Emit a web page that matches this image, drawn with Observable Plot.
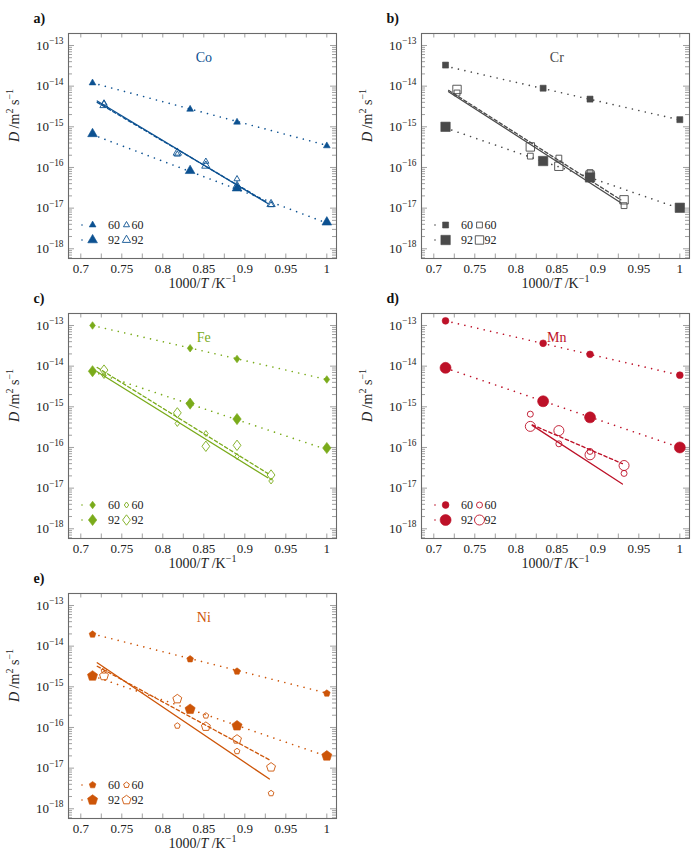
<!DOCTYPE html>
<html><head><meta charset="utf-8">
<script src="https://cdn.jsdelivr.net/npm/d3@7"></script>
<script src="https://cdn.jsdelivr.net/npm/@observablehq/plot@0.6"></script>
<style>
html,body{margin:0;padding:0;background:#fff;}
#wrap{position:relative;width:691px;height:861px;overflow:hidden;background:#fff;}
#wrap svg{position:absolute;overflow:visible;background:transparent;font-family:"Liberation Serif","DejaVu Serif",serif !important;}
#wrap svg text{font-family:"Liberation Serif","DejaVu Serif",serif !important;}
</style></head><body><div id="wrap"></div>
<script>
// ---- shared x positions (1000/T) ----
const xFilled = [0.7143, 0.8333, 0.8905, 1.0];
const xOpen = [0.7283, 0.8177, 0.8525, 0.8905, 0.9320];
const xFitFilled = [0.7143, 1.0];
const xTicks = [0.7, 0.75, 0.8, 0.85, 0.9, 0.95, 1];
const yTicks = [1e-18, 1e-17, 1e-16, 1e-15, 1e-14, 1e-13];
const seriesLabels = ["60", "92"];
const nameLabelX = 0.85;

// ---- Co ----
const coFilled60 = [1.2e-14, 2.7e-15, 1.3e-15, 3.4e-16];
const coFilled92 = [6.7e-16, 8.3e-17, 3.1e-17, 4.5e-18];
const coOpen60 = [3.8e-15, 2.1e-16, 1.4e-16, 5.2e-17, 1.2e-17];
const coOpen92 = [3.4e-15, 2.3e-16, 1.1e-16, 3.5e-17, 1.25e-17];
const coFitFilled60 = [1.2e-14, 3.5e-16];
const coFitFilled92 = [6.4e-16, 4.3e-18];
const coFitOpenX = [0.720, 0.928];
const coFitOpen60 = [4.3e-15, 1.3e-17];
const coFitOpen92 = [4.0e-15, 1.35e-17];

// ---- Cr ----
const crFilled60 = [3.3e-14, 8.9e-15, 4.8e-15, 1.5e-15];
const crFilled92 = [1.0e-15, 1.44e-16, 5.7e-17, 1.02e-17];
const crOpen60 = [6.8e-15, 1.9e-16, 1.7e-16, 7.5e-17, 1.15e-17];
const crOpen92 = [8.3e-15, 3.2e-16, 1.07e-16, 6.5e-17, 1.6e-17];
const crFitFilled60 = [3.1e-14, 1.48e-15];
const crFitFilled92 = [9.4e-16, 9.8e-18];
const crFitOpenX = [0.718, 0.928];
const crFitOpen60 = [7.3e-15, 1.35e-17];
const crFitOpen92 = [7.9e-15, 1.6e-17];

// ---- Fe ----
const feFilled60 = [1.0e-13, 2.76e-14, 1.5e-14, 4.7e-15];
const feFilled92 = [7.5e-15, 1.2e-15, 5.0e-16, 9.7e-17];
const feOpen60 = [5.9e-15, 3.9e-16, 2.2e-16, 6.0e-17, 1.5e-17];
const feOpen92 = [8.0e-15, 7.1e-16, 1.07e-16, 1.13e-16, 2.1e-17];
const feFitFilled60 = [1.0e-13, 4.7e-15];
const feFitFilled92 = [7.3e-15, 8.9e-17];
const feFitOpenX = [0.720, 0.928];
const feFitOpen60 = [7.3e-15, 1.8e-17];
const feFitOpen92 = [9.3e-15, 2.3e-17];

// ---- Mn ----
const mnFilled60 = [1.3e-13, 3.65e-14, 1.95e-14, 6.0e-15];
const mnFilled92 = [9.1e-15, 1.37e-15, 5.5e-16, 1.0e-16];
const mnOpen60 = [null, 6.6e-16, 1.23e-16, 8.0e-17, 2.3e-17];
const mnOpen92 = [null, 3.3e-16, 2.6e-16, 6.6e-17, 3.6e-17];
const mnFitFilled60 = [1.3e-13, 6.0e-15];
const mnFitFilled92 = [9.0e-15, 1.0e-16];
const mnFitOpenX = [0.820, 0.930];
const mnFitOpen60 = [3.5e-16, 1.26e-17];
const mnFitOpen92 = [3.6e-16, 4.0e-17];

// ---- Ni ----
const niFilled60 = [1.95e-14, 4.8e-15, 2.4e-15, 6.9e-16];
const niFilled92 = [1.85e-15, 2.8e-16, 1.1e-16, 2.0e-17];
const niOpen60 = [2.5e-15, 1.1e-16, 1.95e-16, 2.6e-17, 2.4e-18];
const niOpen92 = [1.85e-15, 5.0e-16, 1.05e-16, 5.1e-17, 1.05e-17];
const niFitFilled60 = [2.0e-14, 7.0e-16];
const niFitFilled92 = [1.86e-15, 1.96e-17];
const niFitOpenX = [0.720, 0.930];
const niFitOpen60 = [3.9e-15, 5.4e-18];
const niFitOpen92 = [3.2e-15, 1.6e-17];

// ---- symbols (r = half size) ----
const R = s => Math.sqrt(s / Math.PI);
const symbols = {
  triangle: {draw(c, s) {const r = R(s), h = r * Math.sin(Math.PI / 3); c.moveTo(0, -r); c.lineTo(h, r / 2); c.lineTo(-h, r / 2); c.closePath();}},
  square: {draw(c, s) {const r = R(s); c.moveTo(-r, -r); c.lineTo(r, -r); c.lineTo(r, r); c.lineTo(-r, r); c.closePath();}},
  diamond: {draw(c, s) {const r = R(s); c.moveTo(0, -r); c.lineTo(0.75 * r, 0); c.lineTo(0, r); c.lineTo(-0.75 * r, 0); c.closePath();}},
  circle: {draw(c, s) {const r = R(s); c.moveTo(r, 0); c.arc(0, 0, r, 0, 2 * Math.PI);}},
  pentagon: {draw(c, s) {const r = R(s); for (let k = 0; k < 5; ++k) {const a = -Math.PI / 2 + k * 2 * Math.PI / 5; const px = r * Math.cos(a), py = r * Math.sin(a); if (k) c.lineTo(px, py); else c.moveTo(px, py);} c.closePath();}}
};
const sizes = {
  triangle: [3.9, 5.6, 3.5, 4.8],
  square: [3.0, 4.7, 2.9, 4.2],
  diamond: [3.8, 5.6, 3.0, 5.2],
  circle: [3.4, 5.5, 3.0, 5.0],
  pentagon: [3.5, 5.3, 3.0, 4.7]
};

const panels = [
  {letter: "a)", name: "Co", color: "#0c5191", symbol: "triangle", left: 0, top: 0, width: 345,
   f60: coFilled60, f92: coFilled92, o60: coOpen60, o92: coOpen92, ff60: coFitFilled60, ff92: coFitFilled92, fox: coFitOpenX, fo60: coFitOpen60, fo92: coFitOpen92},
  {letter: "b)", name: "Cr", color: "#4a4a4a", symbol: "square", left: 353, top: 0, width: 338,
   f60: crFilled60, f92: crFilled92, o60: crOpen60, o92: crOpen92, ff60: crFitFilled60, ff92: crFitFilled92, fox: crFitOpenX, fo60: crFitOpen60, fo92: crFitOpen92},
  {letter: "c)", name: "Fe", color: "#7aab1b", symbol: "diamond", left: 0, top: 280, width: 345,
   f60: feFilled60, f92: feFilled92, o60: feOpen60, o92: feOpen92, ff60: feFitFilled60, ff92: feFitFilled92, fox: feFitOpenX, fo60: feFitOpen60, fo92: feFitOpen92},
  {letter: "d)", name: "Mn", color: "#bd1128", symbol: "circle", left: 353, top: 280, width: 338,
   f60: mnFilled60, f92: mnFilled92, o60: mnOpen60, o92: mnOpen92, ff60: mnFitFilled60, ff92: mnFitFilled92, fox: mnFitOpenX, fo60: mnFitOpen60, fo92: mnFitOpen92},
  {letter: "e)", name: "Ni", color: "#cd5508", symbol: "pentagon", left: 0, top: 560, width: 345,
   f60: niFilled60, f92: niFilled92, o60: niOpen60, o92: niOpen92, ff60: niFitFilled60, ff92: niFitFilled92, fox: niFitOpenX, fo60: niFitOpen60, fo92: niFitOpen92}
];

const yDomain = [Math.pow(10, -18.239), Math.pow(10, -12.705)];
const xDomain = [0.685, 1.0118];
const yMinor = [];
for (let e = -19; e <= -13; ++e) for (let k = 2; k <= 9; ++k) {const v = k * Math.pow(10, e); if (v > yDomain[0] && v < yDomain[1]) yMinor.push(v);}
const xMinor = d3.range(0, 13).map(i => 0.7 + i * 0.025);

const rows = (xs, ys) => xs.map((x, i) => ({x, y: ys[i]})).filter(d => d.y != null);

function richify(svg) {
  d3.select(svg).selectAll("text").each(function() {
    const s = this.textContent;
    if (!s.includes("{")) return;
    const base = parseFloat(getComputedStyle(this).fontSize) || 13;
    const parts = []; let last = 0; const re = /\{([i^])\|([^}]*)\}/g; let m;
    while ((m = re.exec(s))) {if (m.index > last) parts.push(["", s.slice(last, m.index)]); parts.push([m[1], m[2]]); last = re.lastIndex;}
    if (last < s.length) parts.push(["", s.slice(last)]);
    const t = d3.select(this); t.text(null);
    let raised = false; const shift = base * 0.42;
    for (const [k, txt] of parts) {
      const sp = t.append("tspan").text(txt);
      if (k === "i") sp.attr("font-style", "italic");
      if (k === "^") {sp.attr("font-size", (base * 0.72) + "px"); if (!raised) {sp.attr("dy", -shift); raised = true;}}
      else if (raised) {sp.attr("dy", shift); raised = false;}
    }
  });
}

const wrap = document.getElementById("wrap");
const tickGray = "#a0a0a0";
const mL = 68, mT = 33, fw = 268, fh = 225, H = 300;
const serif = "'Liberation Serif', 'DejaVu Serif', serif";

for (const p of panels) {
  const W = p.width, mR = W - mL - fw, mB = H - mT - fh;
  const sym = symbols[p.symbol], sz = sizes[p.symbol], col = p.color;
  const dotted = {stroke: col, strokeWidth: 1.6, strokeDasharray: "0.01 6.6", strokeLinecap: "round"};
  const svg = Plot.plot({
    width: W, height: H, marginLeft: mL, marginRight: mR, marginTop: mT, marginBottom: mB,
    x: {domain: xDomain},
    y: {type: "log", domain: yDomain},
    style: {fontFamily: serif, fontSize: "13px", color: "#222", background: "transparent", overflow: "visible"},
    marks: [
      Plot.tickX(xMinor, {x: d => d, insetBottom: fh - 4.5, stroke: tickGray}),
      Plot.tickX(xMinor, {x: d => d, insetTop: fh - 4.5, stroke: tickGray}),
      Plot.tickY(yMinor, {y: d => d, insetRight: fw - 4, stroke: tickGray}),
      Plot.tickY(yMinor, {y: d => d, insetLeft: fw - 4, stroke: tickGray}),
      Plot.tickY(yTicks, {y: d => d, insetRight: fw - 6, stroke: tickGray}),
      Plot.tickY(yTicks, {y: d => d, insetLeft: fw - 6, stroke: tickGray}),
      Plot.frame({stroke: "#6a6a6a", strokeWidth: 1.1}),
      Plot.axisX({ticks: xTicks, tickSize: 0, tickPadding: 5, tickFormat: d => String(d), label: null, fill: "#222"}),
      Plot.axisY({ticks: yTicks, tickSize: 0, tickPadding: 5, tickFormat: d => `10{^|−${-Math.round(Math.log10(d))}}`, label: null, fill: "#222"}),
      Plot.line(rows(xFitFilled, p.ff60), {x: "x", y: "y", ...dotted}),
      Plot.line(rows(xFitFilled, p.ff92), {x: "x", y: "y", ...dotted}),
      Plot.line(rows(p.fox, p.fo92), {x: "x", y: "y", stroke: col, strokeWidth: 1.3, strokeDasharray: "3.5 2.5"}),
      Plot.line(rows(p.fox, p.fo60), {x: "x", y: "y", stroke: col, strokeWidth: 1.3}),
      Plot.dot(rows(xOpen, p.o60), {x: "x", y: "y", symbol: sym, r: sz[2], stroke: col, fill: "none", strokeWidth: 0.9}),
      Plot.dot(rows(xOpen, p.o92), {x: "x", y: "y", symbol: sym, r: sz[3], stroke: col, fill: "none", strokeWidth: 0.9}),
      Plot.dot(rows(xFilled, p.f60), {x: "x", y: "y", symbol: sym, r: sz[0], fill: col, stroke: col, strokeWidth: 0.6}),
      Plot.dot(rows(xFilled, p.f92), {x: "x", y: "y", symbol: sym, r: sz[1], fill: col, stroke: col, strokeWidth: 0.6}),
      Plot.text([p.name], {x: () => nameLabelX, frameAnchor: "top", dy: 19, text: d => d, fill: col, fontSize: 14}),
      Plot.text([p.letter], {frameAnchor: "top-left", dx: -35, dy: -20, text: d => d, textAnchor: "start", fontWeight: "bold", fontSize: 14, fill: "#111"}),
      Plot.text(["1000/{i|T} /K{^|−1}"], {frameAnchor: "bottom", dy: 29, text: d => d, fill: "#222", fontSize: 14}),
      Plot.text(["{i|D} /m{^|2} s{^|−1}"], {frameAnchor: "left", dx: -54, dy: -4, rotate: -90, text: d => d, fill: "#222", fontSize: 14})
    ]
  });
  svg.style.left = p.left + "px";
  svg.style.top = p.top + "px";
  wrap.appendChild(svg);
  richify(svg);

  // legend inside the frame, bottom-left
  const g = d3.select(svg).append("g").attr("font-size", 12).attr("fill", "#222")
    .attr("text-anchor", "start").attr("font-family", serif);
  const fl = mL, fb = mT + fh;
  [[-33, 0], [-18, 1]].forEach(([dy, j]) => {
    const y = fb + dy;
    g.append("line").attr("x1", fl + 14).attr("x2", fl + 35).attr("y1", y).attr("y2", y)
      .attr("stroke", col).attr("stroke-width", 1.6).attr("stroke-dasharray", "0.01 10.5").attr("stroke-linecap", "round");
    g.append("path").attr("d", d3.symbol(sym, Math.PI * sz[j] * sz[j])()).attr("transform", `translate(${fl + 24.6},${y})`)
      .attr("fill", col).attr("stroke", col).attr("stroke-width", 0.6);
    g.append("text").attr("x", fl + 40).attr("y", y).attr("dy", "0.35em").attr("text-anchor", "start").text(seriesLabels[j]);
    g.append("path").attr("d", d3.symbol(sym, Math.PI * sz[j + 2] * sz[j + 2])()).attr("transform", `translate(${fl + 58.5},${y})`)
      .attr("fill", "none").attr("stroke", col).attr("stroke-width", 0.9);
    g.append("text").attr("x", fl + 63.5).attr("y", y).attr("dy", "0.35em").attr("text-anchor", "start").text(seriesLabels[j]);
  });
}
</script></body></html>
